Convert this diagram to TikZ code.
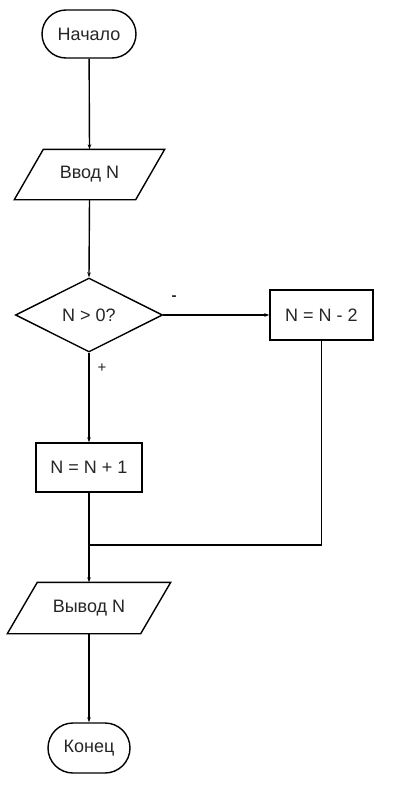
\documentclass[tikz,border=0pt]{standalone}
\usepackage{fontspec}
\setmainfont{Liberation Sans}
\usetikzlibrary{shapes.geometric,arrows.meta,calc}
\begin{document}
\begin{tikzpicture}[x=1pt,y=-1pt,
  line width=1.4pt,
  every node/.style={font=\fontsize{18}{20}\selectfont, text=black!85},
  term/.style={draw, rounded corners=24pt, inner sep=0pt},
  io/.style={inner sep=0pt, minimum height=#1},
  proc/.style={draw, inner sep=0pt},
  dec/.style={draw, diamond, inner sep=0pt, minimum width=147pt, minimum height=74pt},
  lbl/.style={font=\fontsize{15}{17}\selectfont},
  arr/.style={-{Stealth[length=5pt,width=3.5pt]}}]
\useasboundingbox (0,0) rectangle (405,798);
\fill[white] (0,0) rectangle (405,798);
\node[term, minimum width=94pt, minimum height=48pt] (start) at (89,34) {Начало};
\node[io=49pt, minimum width=120pt] (in) at (89.5,174.5) {Ввод N};
\draw ($(in.north west)+(14.5,0)$) -- ($(in.north east)+(14.5,0)$) -- ($(in.south east)+(-14.5,0)$) -- ($(in.south west)+(-14.5,0)$) -- cycle;
\node[dec] (cond) at (89,315) {N > 0?};
\node[proc, minimum width=103pt, minimum height=50pt] (minus) at (321.5,315) {N = N - 2};
\node[proc, minimum width=106pt, minimum height=49pt] (plus) at (89,467.5) {N = N + 1};
\node[io=50pt, minimum width=132pt] (out) at (89,608) {Вывод N};
\draw ($(out.north west)+(15,0)$) -- ($(out.north east)+(15,0)$) -- ($(out.south east)+(-15,0)$) -- ($(out.south west)+(-15,0)$) -- cycle;
\node[term, minimum width=82pt, minimum height=50pt, rounded corners=25pt] (stop) at (89,748) {Конец};
\coordinate (join) at (89,545);
\node[lbl] (lm) at (174,298) {\textbf{-}};
\node[lbl] (lp) at (102,368) {+};
\draw[arr] (start) -- (in.north);
\draw[arr] (in.south) -- (cond.north);
\draw[arr] (cond.east) -- (minus.west);
\draw[arr] (cond.south) -- (plus.north);
\draw[arr] (plus.south) -- (out.north);
\draw (minus.south) |- (join);
\draw[arr] (out.south) -- (stop.north);
\end{tikzpicture}
\end{document}
